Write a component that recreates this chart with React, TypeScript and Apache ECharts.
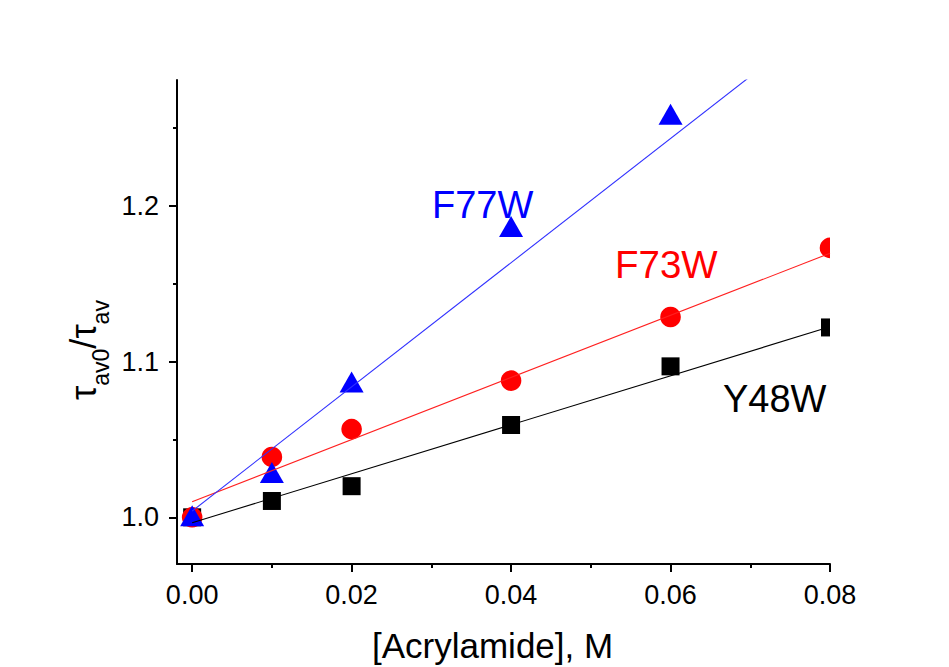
import React, { useEffect, useRef } from "react";
import * as echarts from "echarts";

// Acrylamide concentration (M) and lifetime ratios for the three mutants
const CONC = [0, 0.01, 0.02, 0.04, 0.06, 0.08];
const Y48W = [1.0, 1.0105, 1.02, 1.0593, 1.097, 1.122];
const F73W = [1.0, 1.0388, 1.0567, 1.0878, 1.1287, 1.1731];
const CONC_F77W = [0, 0.01, 0.02, 0.04, 0.06];
const F77W = [1.001, 1.0288, 1.087, 1.1868, 1.259];

// Stern-Volmer linear fits: [intercept, slope]
const FIT_Y48W = [0.9965, 1.574];
const FIT_F73W = [1.01, 1.996];
const FIT_F77W = [1.004, 3.99];

const X_MAJOR = [0, 0.02, 0.04, 0.06, 0.08];
const X_MINOR = [0.01, 0.03, 0.05, 0.07];
const Y_MAJOR = [1.0, 1.1, 1.2];
const Y_MINOR = [1.05, 1.15, 1.25];

const FONT = "'Liberation Sans', Arial, Helvetica, sans-serif";

const pairs = (xs: number[], ys: number[]) => xs.map((x, i) => [x, ys[i]]);
const fitLine = (fit: number[], x0: number, x1: number) => [
  [x0, fit[0] + fit[1] * x0],
  [x1, fit[0] + fit[1] * x1],
];

function markerSeries(data: number[][], shape: "square" | "circle" | "triangle", color: string) {
  return {
    type: "custom",
    clip: true,
    data,
    renderItem: (_params: any, api: any) => {
      const p = api.coord([api.value(0), api.value(1)]);
      if (shape === "square") {
        return { type: "rect", shape: { x: p[0] - 9, y: p[1] - 9, width: 18, height: 18 }, style: { fill: color } };
      }
      if (shape === "circle") {
        return { type: "circle", shape: { cx: p[0], cy: p[1], r: 10.3 }, style: { fill: color } };
      }
      return {
        type: "polygon",
        shape: {
          points: [
            [p[0], p[1] - 10.5],
            [p[0] - 12, p[1] + 10.5],
            [p[0] + 12, p[1] + 10.5],
          ],
        },
        style: { fill: color },
      };
    },
  };
}

function fitSeries(data: number[][], color: string) {
  return {
    type: "line",
    data,
    clip: true,
    showSymbol: false,
    symbol: "none",
    lineStyle: { color, width: 1.1 },
    z: 5,
  };
}

export default function App() {
  const ref = useRef<HTMLDivElement>(null);

  useEffect(() => {
    if (!ref.current) return;
    const chart = echarts.init(ref.current, undefined, { renderer: "svg" });
    const axisLine = { show: true, onZero: false, lineStyle: { color: "#000", width: 2 } };
    const tickStyle = { color: "#000", width: 2 };
    chart.setOption({
      animation: false,
      backgroundColor: "#ffffff",
      grid: { left: 177, top: 80, width: 653, height: 484, containLabel: false },
      xAxis: [
        {
          type: "value",
          min: -0.0019,
          max: 0.08,
          axisLine,
          splitLine: { show: false },
          axisTick: { show: true, customValues: X_MAJOR, length: 8, lineStyle: tickStyle },
          axisLabel: {
            customValues: X_MAJOR,
            formatter: (v: number) => v.toFixed(2),
            fontSize: 27,
            fontFamily: FONT,
            color: "#000",
            margin: 17,
          },
        },
        {
          type: "value",
          min: -0.0019,
          max: 0.08,
          position: "bottom",
          axisLine: { show: false, onZero: false },
          splitLine: { show: false },
          axisTick: { show: true, customValues: X_MINOR, length: 4, lineStyle: tickStyle },
          axisLabel: { show: false },
        },
      ],
      yAxis: [
        {
          type: "value",
          min: 0.97,
          max: 1.281,
          axisLine,
          splitLine: { show: false },
          axisTick: { show: true, customValues: Y_MAJOR, length: 8, lineStyle: tickStyle },
          axisLabel: {
            customValues: Y_MAJOR,
            formatter: (v: number) => v.toFixed(1),
            fontSize: 27,
            fontFamily: FONT,
            color: "#000",
            margin: 18,
          },
        },
        {
          type: "value",
          min: 0.97,
          max: 1.281,
          position: "left",
          axisLine: { show: false, onZero: false },
          splitLine: { show: false },
          axisTick: { show: true, customValues: Y_MINOR, length: 4, lineStyle: tickStyle },
          axisLabel: { show: false },
        },
      ],
      series: [
        markerSeries(pairs(CONC, Y48W), "square", "#000000"),
        markerSeries(pairs(CONC, F73W), "circle", "#ff0000"),
        markerSeries(pairs(CONC_F77W, F77W), "triangle", "#0000ff"),
        fitSeries(fitLine(FIT_Y48W, 0, 0.08), "#000000"),
        fitSeries(fitLine(FIT_F73W, 0, 0.08), "#ff2020"),
        fitSeries(fitLine(FIT_F77W, 0, 0.08), "#3030ff"),
      ],
      graphic: [
        {
          type: "text",
          x: 432,
          y: 205,
          style: { text: "F77W", fill: "#0000ff", fontSize: 38, fontFamily: FONT, align: "left", verticalAlign: "middle" },
        },
        {
          type: "text",
          x: 615,
          y: 264.5,
          style: { text: "F73W", fill: "#ff0000", fontSize: 38.5, fontFamily: FONT, align: "left", verticalAlign: "middle" },
        },
        {
          type: "text",
          x: 723,
          y: 399,
          style: { text: "Y48W", fill: "#000000", fontSize: 38, fontFamily: FONT, align: "left", verticalAlign: "middle" },
        },
        {
          type: "text",
          x: 372,
          y: 645,
          style: { text: "[Acrylamide], M", fill: "#000000", fontSize: 35, fontFamily: FONT, align: "left", verticalAlign: "middle" },
        },
        {
          // y-axis title: tau_av0 / tau_av, read bottom to top
          type: "text",
          x: 89,
          y: 350,
          rotation: Math.PI / 2,
          style: {
            text: "{t|τ}{s|av0}{t|/τ}{s|av}",
            align: "center",
            verticalAlign: "middle",
            fill: "#000",
            rich: {
              t: { fontSize: 36, fontFamily: FONT, lineHeight: 34, verticalAlign: "top", fill: "#000" },
              s: { fontSize: 23, fontFamily: FONT, lineHeight: 47, verticalAlign: "bottom", fill: "#000" },
            },
          },
        },
      ],
    });
    return () => chart.dispose();
  }, []);

  return <div ref={ref} style={{ position: "fixed", left: 0, top: 0, width: 949, height: 667 }} />;
}
